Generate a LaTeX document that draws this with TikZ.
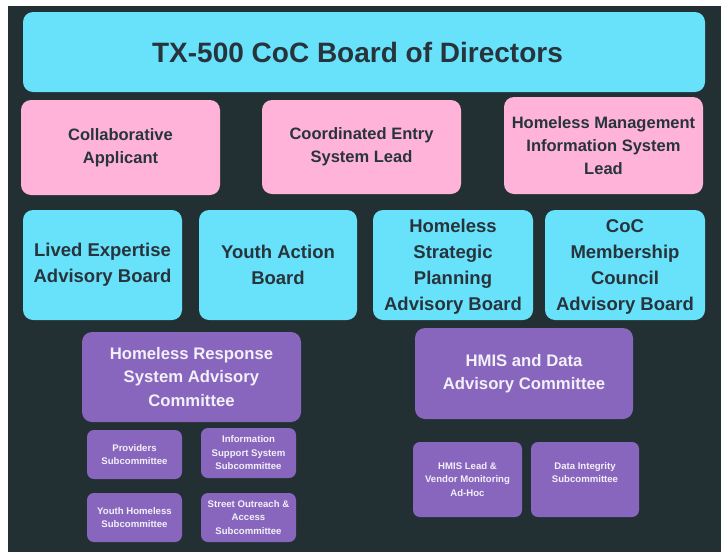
\documentclass[tikz,border=0pt]{standalone}
\usepackage{fontspec}
\setmainfont{Liberation Sans}
\definecolor{bgdark}{RGB}{34,48,51}
\definecolor{cyanbox}{RGB}{104,225,251}
\definecolor{pinkbox}{RGB}{255,179,217}
\definecolor{purplebox}{RGB}{137,102,190}
\definecolor{darktext}{RGB}{40,52,60}
\definecolor{lighttext}{RGB}{242,240,248}
\tikzset{
  basebox/.style={rounded corners=10pt, inner sep=0pt, align=center, font=\bfseries},
  titlebox/.style={basebox, fill=cyanbox, text=darktext, font=\bfseries\fontsize{28}{32}\selectfont},
  pinkrole/.style={basebox, fill=pinkbox, text=darktext, font=\bfseries\fontsize{16.5}{23}\selectfont},
  cyanboard/.style={basebox, fill=cyanbox, text=darktext, font=\bfseries\fontsize{18.5}{26}\selectfont},
  purplecomm/.style={basebox, fill=purplebox, text=lighttext, font=\bfseries\fontsize{16.7}{23.5}\selectfont},
  purplesub/.style={basebox, rounded corners=7pt, fill=purplebox, text=lighttext, font=\bfseries\fontsize{9.6}{13.5}\selectfont},
}
\begin{document}
\begin{tikzpicture}[x=1pt,y=-1pt]
\useasboundingbox (0,0) rectangle (721,552);
\fill[white] (0,0) rectangle (721,552);
\fill[bgdark] (8,6) rectangle (721,552);

\node[titlebox, minimum width=682pt, minimum height=80pt] (board) at (364,52) {TX-500 CoC Board of Directors\hspace*{13pt}};

\node[pinkrole, minimum width=199pt, minimum height=95pt] (ca) at (120.5,147.5) {Collaborative\\Applicant};
\node[pinkrole, minimum width=199pt, minimum height=94pt] (ces) at (361.5,147) {Coordinated Entry\\System Lead};
\node[pinkrole, minimum width=199pt, minimum height=97pt] (hmislead) at (603.5,145.5) {Homeless Management\\Information System\\Lead};

\node[cyanboard, minimum width=159pt, minimum height=110pt] (leab) at (102.5,265) {Lived Expertise\\Advisory Board};
\node[cyanboard, minimum width=158pt, minimum height=110pt] (yab) at (278,265) {Youth Action\\Board};
\node[cyanboard, minimum width=160pt, minimum height=110pt] (hspab) at (453,265) {\rule{0pt}{17pt}Homeless\\Strategic\\Planning\\Advisory Board};
\node[cyanboard, minimum width=160pt, minimum height=110pt] (cocm) at (625,265) {\rule{0pt}{17pt}CoC\\Membership\\Council\\Advisory Board};

\node[purplecomm, minimum width=219pt, minimum height=90pt] (hrsac) at (191.5,377) {Homeless Response\\System Advisory\\Committee};
\node[purplecomm, minimum width=218pt, minimum height=91pt] (hmisdata) at (524,373.5) {HMIS and Data\\Advisory Committee};

\node[purplesub, minimum width=95pt, minimum height=49pt] (prov) at (134.5,454.5) {Providers\\Subcommittee};
\node[purplesub, minimum width=95pt, minimum height=50pt] (iss) at (248.5,453) {Information\\Support System\\Subcommittee};
\node[purplesub, minimum width=95pt, minimum height=49pt] (yhs) at (134.5,517.5) {Youth Homeless\\Subcommittee};
\node[purplesub, minimum width=95pt, minimum height=49pt] (sos) at (248.5,517.5) {Street Outreach \&\\Access\\Subcommittee};

\node[purplesub, minimum width=109pt, minimum height=75pt] (hlv) at (467.5,479.5) {HMIS Lead \&\\Vendor Monitoring\\Ad-Hoc};
\node[purplesub, minimum width=108pt, minimum height=75pt] (dis) at (585,479.5) {Data Integrity\\Subcommittee\\\mbox{}};
\end{tikzpicture}
\end{document}
